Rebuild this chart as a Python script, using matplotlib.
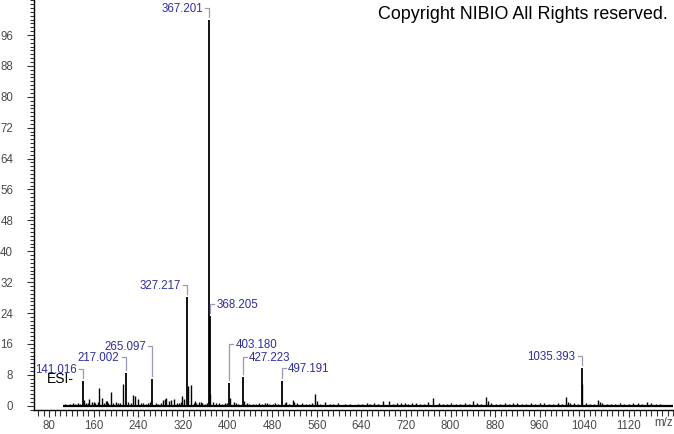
import matplotlib
matplotlib.use("Agg")
import matplotlib.pyplot as plt
from matplotlib.ticker import MultipleLocator, FixedLocator

# ---- data ----
label_mz = [141.016, 217.002, 265.097, 327.217, 367.201, 368.205, 403.180, 427.223, 497.191, 1035.393]
label_int = [6.4, 8.5, 6.9, 28.2, 100.0, 23.2, 6.0, 7.5, 6.3, 9.8]
label_side = ['left', 'left', 'left', 'left', 'left', 'right', 'right', 'right', 'right', 'left']
label_lift_px = [12, 16, 33, 12, 12, 12, 39, 20, 13, 12]

minor_mz = [143, 151, 160, 170, 175, 182, 190.5, 212, 231, 234,
            239, 284, 287, 290, 299, 303, 318, 321, 329.2, 333.5,
            342, 352, 369.2, 405.2, 411, 429.2, 470, 505, 517.5, 520,
            557, 560, 575, 663, 679, 690, 760, 769, 780, 840,
            864, 867, 913, 1007, 1010, 1036.4, 1065, 1068, 1153]
minor_int = [1.5, 1.7, 1.0, 4.5, 2.0, 1.2, 3.6, 5.5, 2.8, 2.5,
             1.8, 1.5, 1.8, 2.0, 1.5, 1.8, 2.6, 1.7, 5.2, 5.4,
             1.2, 1.0, 3.0, 2.0, 1.0, 1.3, 0.7, 0.9, 1.5, 0.9,
             3.0, 1.1, 0.9, 0.7, 1.3, 1.1, 0.9, 2.1, 0.6, 1.1,
             2.2, 1.1, 0.6, 2.2, 0.9, 5.6, 1.6, 0.9, 0.9]

noise_mz = [108, 113, 118, 122, 127, 131, 135, 146, 149, 156,
            163, 167, 179, 183, 186, 195, 199, 203, 207, 222,
            227, 244, 248, 253, 257, 261, 271, 276, 280, 295,
            309, 313, 316, 339, 344, 349, 355, 359, 363, 374,
            379, 385, 390, 395, 399, 415, 419, 434, 438, 445,
            451, 456, 462, 467, 474, 481, 486, 491, 503, 510,
            524, 534, 540, 546, 551, 565, 583, 590, 598, 611,
            619, 626, 634, 642, 650, 656, 670, 697, 704, 712,
            718, 724, 731, 738, 745, 752, 786, 794, 801, 809,
            817, 826, 833, 847, 854, 873, 881, 889, 897, 905,
            920, 928, 936, 944, 952, 960, 968, 976, 984, 992,
            1000, 1014, 1021, 1028, 1044, 1050, 1058, 1072, 1080, 1088,
            1096, 1104, 1112, 1120, 1128, 1136, 1144, 1160, 1168, 1176]
noise_int = [0.4, 0.3, 0.5, 0.6, 0.4, 0.7, 0.5, 0.8, 0.6, 1.0,
             0.7, 0.9, 0.6, 1.1, 0.8, 0.7, 0.9, 0.6, 0.8, 0.9,
             0.7, 0.6, 0.8, 0.5, 0.7, 0.9, 0.6, 0.5, 0.8, 1.2,
             0.8, 0.6, 0.9, 0.7, 0.6, 0.9, 0.8, 0.5, 0.7, 0.9,
             0.6, 0.7, 0.5, 0.8, 0.6, 0.7, 0.5, 0.6, 0.4, 0.5,
             0.4, 0.6, 0.5, 0.7, 0.5, 0.4, 0.6, 0.5, 0.7, 0.5,
             0.6, 0.8, 0.5, 0.4, 0.6, 0.5, 0.4, 0.5, 0.6, 0.4,
             0.5, 0.3, 0.5, 0.4, 0.6, 0.5, 0.4, 0.5, 0.6, 0.7,
             0.6, 0.5, 0.7, 0.6, 0.5, 0.4, 0.5, 0.4, 0.6, 0.5,
             0.4, 0.6, 0.5, 0.7, 0.5, 0.6, 0.4, 0.5, 0.6, 0.5,
             0.7, 0.5, 0.4, 0.6, 0.5, 0.7, 0.6, 0.5, 0.4, 0.6,
             0.5, 0.7, 0.6, 0.5, 0.6, 0.5, 0.4, 0.6, 0.5, 0.4,
             0.5, 0.6, 0.5, 0.4, 0.6, 0.7, 0.5, 0.6, 0.5, 0.4]

mz_start, mz_end = 104, 1200
y_ticks = [0, 8, 16, 24, 32, 40, 48, 56, 64, 72, 80, 88, 96]
x_ticks = [80, 160, 240, 320, 400, 480, 560, 640, 720, 800, 880, 960, 1040, 1120]

# ---- figure ----
W, H = 674, 434
fig = plt.figure(figsize=(W / 100, H / 100), dpi=100)
ax_left, ax_bottom, ax_w, ax_h = 34, 24, 640, 410
ax = fig.add_axes([ax_left / W, ax_bottom / H, ax_w / W, ax_h / H])

xmin, xmax = 52.7, 1201
ymin, ymax = -1.11, 105.07
ax.set_xlim(xmin, xmax)
ax.set_ylim(ymin, ymax)
upx = (xmax - xmin) / ax_w   # data units per pixel (x)
upy = (ymax - ymin) / ax_h   # data units per pixel (y)

font = 'Liberation Sans'
tick_color = '#4a4a4a'
tick_fs = 8.3
lab_fs = 8.3

# spectrum
ax.hlines(0, mz_start, mz_end, color='black', lw=1.6, zorder=2)
ax.vlines(noise_mz, 0, noise_int, color='black', lw=1.0, zorder=2)
ax.vlines(minor_mz, 0, minor_int, color='black', lw=1.0, zorder=2)
ax.vlines(label_mz, 0, label_int, color='black', lw=1.3, zorder=3)

# labels with brackets
lab_color = '#2e2e9e'
br_color = '#9a9ab8'
for mz, inten, side, lift in zip(label_mz, label_int, label_side, label_lift_px):
    top = inten + 3 * upy
    level = inten + lift * upy
    sgn = -1 if side == 'left' else 1
    ax.plot([mz, mz, mz + sgn * 4 * upx], [top, level, level], color=br_color,
            lw=0.9, zorder=4, solid_joinstyle='miter', clip_on=False)
    ax.text(mz + sgn * 6.5 * upx, level - 4.0 * upy, f"{mz:.3f}",
            ha='right' if side == 'left' else 'left', va='baseline',
            color=lab_color, fontsize=lab_fs, family=font, zorder=5, clip_on=False)

# axes styling
for s in ['top', 'right']:
    ax.spines[s].set_visible(False)
for s in ['left', 'bottom']:
    ax.spines[s].set_color('black')
    ax.spines[s].set_linewidth(1.0)

ax.xaxis.set_major_locator(FixedLocator(x_ticks))
ax.xaxis.set_minor_locator(MultipleLocator(10))
ax.yaxis.set_major_locator(FixedLocator(y_ticks))
ax.yaxis.set_minor_locator(MultipleLocator(1))
ax.tick_params(axis='x', which='major', direction='out', length=5, width=0.8,
               color='#333333', labelsize=tick_fs, labelcolor=tick_color, pad=2.5)
ax.tick_params(axis='x', which='minor', direction='out', length=4, width=0.8, color='#333333')
ax.tick_params(axis='y', which='major', direction='out', length=5, width=0.8,
               color='#333333', labelsize=tick_fs, labelcolor=tick_color, pad=10)
ax.tick_params(axis='y', which='minor', direction='out', length=3, width=0.8, color='#333333')
for lbl in ax.get_xticklabels() + ax.get_yticklabels():
    lbl.set_family(font)

fig.text(664 / W, 11.5 / H, 'm/z', ha='center', va='center',
         fontsize=tick_fs, color=tick_color, family=font)

fig.text(668 / W, 1 - 19 / H, 'Copyright NIBIO All Rights reserved.', ha='right',
         va='baseline', fontsize=12.9, color='black', family=font)
fig.text(47 / W, 1 - 382.7 / H, 'ESI-', ha='left', va='baseline', fontsize=10,
         color='black', family=font)

fig.savefig('out.png', dpi=100)
